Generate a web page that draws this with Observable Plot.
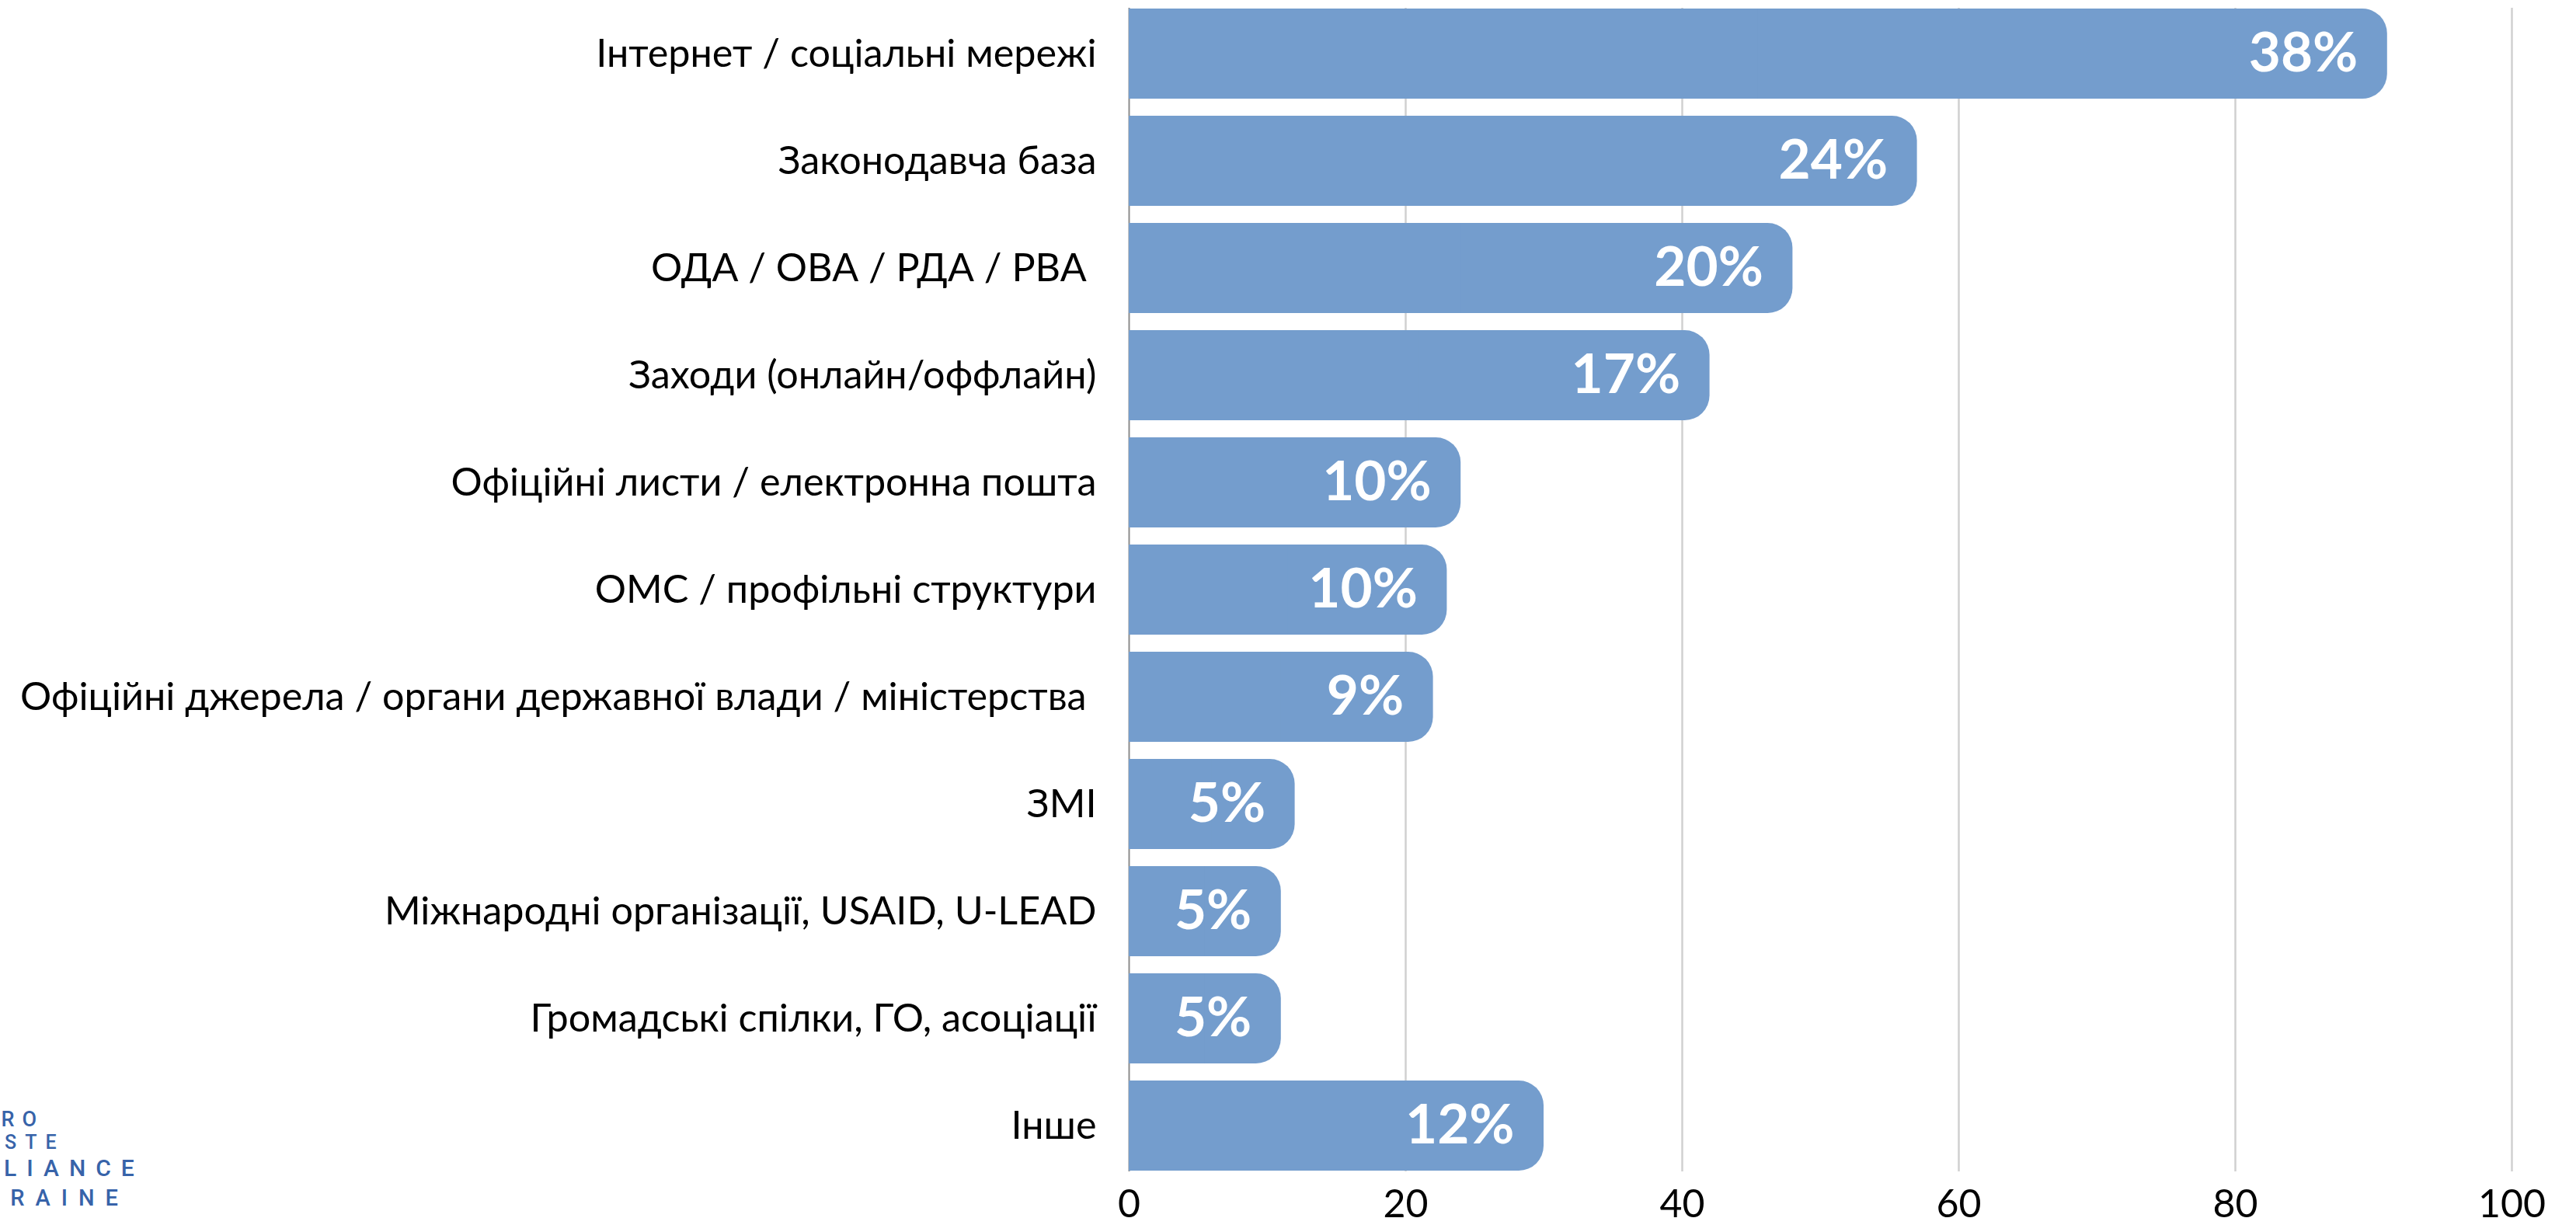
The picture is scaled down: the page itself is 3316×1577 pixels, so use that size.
<!DOCTYPE html>
<html>
<head>
<meta charset="utf-8">
<script src="https://cdn.jsdelivr.net/npm/d3@7"></script>
<script src="https://cdn.jsdelivr.net/npm/@observablehq/plot@0.6"></script>
<style>
  html, body { margin: 0; padding: 0; background: #fff; }
  #wrap { position: relative; width: 3316px; height: 1577px; overflow: hidden; }
  #logo { position: absolute; left: 0; top: 0; width: 3316px; height: 1577px; pointer-events: none;
          font-family: Roboto, sans-serif; font-weight: 500; color: #3763a9; }
  #logo div { position: absolute; white-space: nowrap; line-height: 1; }
</style>
</head>
<body>
<div id="wrap">
  <div id="chart"></div>
  <div id="logo">
    <div style="left:-50px; top:1428px; font-size:27px; letter-spacing:10px;">ZERO</div>
    <div style="left:-54px; top:1458px; font-size:25px; letter-spacing:11px;">WASTE</div>
    <div style="left:-57px; top:1489px; font-size:30px; letter-spacing:13px;">ALLIANCE</div>
    <div style="left:-52px; top:1528px; font-size:29px; letter-spacing:14px;">UKRAINE</div>
  </div>
</div>
<script>
const categories = [
  "Інтернет / соціальні мережі",
  "Законодавча база",
  "ОДА / ОВА / РДА / РВА ",
  "Заходи (онлайн/оффлайн)",
  "Офіційні листи / електронна пошта",
  "ОМС / профільні структури",
  "Офіційні джерела / органи державної влади / міністерства ",
  "ЗМІ",
  "Міжнародні організації, USAID, U-LEAD",
  "Громадські спілки, ГО, асоціації",
  "Інше"
];
const counts = [91, 57, 48, 42, 24, 23, 22, 12, 11, 11, 30];
const percentLabels = ["38%", "24%", "20%", "17%", "10%", "10%", "9%", "5%", "5%", "5%", "12%"];
const xTicks = [0, 20, 40, 60, 80, 100];

const data = categories.map((c, i) => ({cat: c, v: counts[i], label: percentLabels[i]}));
const barColor = "#749dcd";

const chart = Plot.plot({
  width: 3316,
  height: 1577,
  marginLeft: 1453,
  marginRight: 83,
  marginTop: 0,
  marginBottom: 58,
  style: {fontFamily: "Lato, sans-serif", color: "#000", background: "#fff"},
  x: {domain: [0, 100], ticks: xTicks},
  y: {domain: categories, paddingInner: 0.157, paddingOuter: 0.078},
  marks: [
    Plot.ruleX(xTicks.slice(1), {stroke: "#d0d0d0", strokeWidth: 2.5, insetTop: 10, insetBottom: 11}),
    Plot.ruleX([0], {stroke: "#8c8c8c", strokeWidth: 2, insetTop: 10, insetBottom: 11}),
    Plot.barX(data, {x1: 0, x2: "v", y: "cat", fill: barColor, rx: 32}),
    Plot.barX(data, {x1: 0, x2: d => d.v / 2, y: "cat", fill: barColor}),
    Plot.text(data, {x: "v", y: "cat", text: "label", textAnchor: "end", dx: -38, fill: "white",
                     fontSize: 71, fontWeight: "bold"}),
    Plot.axisY({tickSize: 0, tickPadding: 42, fontSize: 50.3, label: null}),
    Plot.axisX({ticks: xTicks, tickSize: 0, tickPadding: 12, fontSize: 50, label: null})
  ]
});
document.getElementById("chart").appendChild(chart);
</script>
</body>
</html>
